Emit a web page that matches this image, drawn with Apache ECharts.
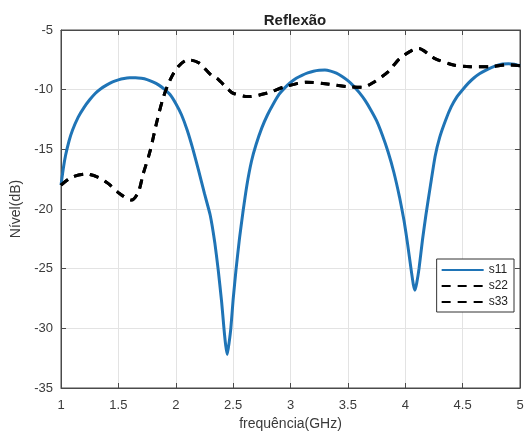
<!DOCTYPE html>
<html>
<head>
<meta charset="utf-8">
<script src="https://cdn.jsdelivr.net/npm/echarts@6/dist/echarts.min.js"></script>
<style>
  html, body { margin: 0; padding: 0; background: #fff; }
  #chart { width: 528px; height: 436px; }
</style>
</head>
<body>
<div id="chart"></div>
<script>
// valores (frequência em GHz, nível em dB)
var s11Freq  = [1.00, 1.02, 1.04, 1.07, 1.10, 1.15, 1.20, 1.25, 1.30, 1.35, 1.40, 1.45, 1.50, 1.55, 1.60, 1.65, 1.70, 1.75, 1.80, 1.85, 1.90, 1.95, 2.00, 2.05, 2.10, 2.15, 2.20, 2.25, 2.30, 2.34, 2.37, 2.40, 2.42, 2.435, 2.449, 2.465, 2.48, 2.50, 2.525, 2.555, 2.585, 2.62, 2.66, 2.70, 2.75, 2.80, 2.85, 2.90, 2.95, 3.00, 3.05, 3.10, 3.15, 3.20, 3.25, 3.30, 3.35, 3.40, 3.45, 3.50, 3.55, 3.60, 3.65, 3.70, 3.75, 3.80, 3.85, 3.90, 3.95, 3.99, 4.02, 4.05, 4.07, 4.085, 4.10, 4.12, 4.15, 4.18, 4.22, 4.26, 4.30, 4.35, 4.40, 4.45, 4.50, 4.55, 4.60, 4.65, 4.70, 4.75, 4.80, 4.85, 4.90, 4.95, 5.00];
var s11Level = [-18.0, -16.6, -15.5, -14.3, -13.4, -12.3, -11.5, -10.85, -10.3, -9.9, -9.6, -9.35, -9.18, -9.07, -9.01, -9.0, -9.05, -9.16, -9.35, -9.6, -9.95, -10.4, -11.15, -12.1, -13.4, -15.0, -16.8, -18.7, -20.5, -22.8, -25.1, -27.8, -30.0, -31.4, -32.2, -31.2, -30.0, -27.6, -25.1, -22.5, -20.3, -18.0, -16.0, -14.6, -13.2, -12.1, -11.2, -10.4, -9.85, -9.4, -9.05, -8.8, -8.6, -8.45, -8.37, -8.36, -8.45, -8.62, -8.9, -9.25, -9.7, -10.25, -10.9, -11.7, -12.6, -13.8, -15.2, -16.9, -19.0, -21.0, -22.9, -25.0, -26.3, -26.8, -26.2, -25.0, -22.6, -20.5, -18.0, -15.6, -14.0, -12.6, -11.45, -10.6, -10.0, -9.45, -9.0, -8.65, -8.38, -8.15, -7.97, -7.85, -7.82, -7.87, -8.0];

var s22Freq  = [1.00, 1.09, 1.22, 1.325, 1.41, 1.51, 1.615, 1.675, 1.715, 1.775, 1.835, 1.89, 1.95, 2.02, 2.11, 2.20, 2.31, 2.36, 2.46, 2.50, 2.63, 2.79, 2.97, 3.14, 3.32, 3.49, 3.62, 3.71, 3.85, 3.955, 4.115, 4.25, 4.42, 4.565, 4.74, 4.885, 5.00];
var s22Level = [-18.0, -17.35, -17.08, -17.35, -17.85, -18.7, -19.25, -18.55, -17.1, -15.2, -12.7, -10.7, -9.2, -8.07, -7.5, -7.75, -8.8, -9.05, -10.0, -10.3, -10.58, -10.3, -9.7, -9.38, -9.52, -9.74, -9.8, -9.46, -8.5, -7.37, -6.55, -7.35, -7.93, -8.07, -8.07, -7.93, -8.0];

// s33 coincide com s22 no gráfico
var s33Freq  = [1.00, 1.09, 1.22, 1.325, 1.41, 1.51, 1.615, 1.675, 1.715, 1.775, 1.835, 1.89, 1.95, 2.02, 2.11, 2.20, 2.31, 2.36, 2.46, 2.50, 2.63, 2.79, 2.97, 3.14, 3.32, 3.49, 3.62, 3.71, 3.85, 3.955, 4.115, 4.25, 4.42, 4.565, 4.74, 4.885, 5.00];
var s33Level = [-18.0, -17.35, -17.08, -17.35, -17.85, -18.7, -19.25, -18.55, -17.1, -15.2, -12.7, -10.7, -9.2, -8.07, -7.5, -7.75, -8.8, -9.05, -10.0, -10.3, -10.58, -10.3, -9.7, -9.38, -9.52, -9.74, -9.8, -9.46, -8.5, -7.37, -6.55, -7.35, -7.93, -8.07, -8.07, -7.93, -8.0];

function pares(xs, ys) {
    return xs.map(function (x, i) { return [x, ys[i]]; });
}

var fonte = '"Liberation Sans", Arial, sans-serif';
var corTexto = '#3a3a3a';
var corEixo = '#4a4a4a';

var myChart = echarts.init(document.getElementById('chart'));
myChart.setOption({
    animation: false,
    backgroundColor: '#fff',
    title: {
        text: 'Reflexão',
        left: 290,
        textAlign: 'center',
        top: 8,
        textStyle: { fontFamily: fonte, fontSize: 15, fontWeight: 'bold', color: '#222' }
    },
    legend: {
        orient: 'vertical',
        right: 14,
        top: 259,
        itemWidth: 42,
        itemHeight: 10,
        itemGap: 4,
        padding: [5, 6, 4, 4],
        borderColor: '#333',
        borderWidth: 1,
        backgroundColor: '#fff',
        itemStyle: { opacity: 0 },
        textStyle: { fontFamily: fonte, fontSize: 12, color: '#222' },
        data: ['s11', 's22', 's33']
    },
    grid: {
        left: 61, right: 8, top: 30, bottom: 47,
        show: true, borderColor: corEixo, borderWidth: 1
    },
    xAxis: [{
        type: 'value',
        min: 1, max: 5, interval: 0.5,
        name: 'frequência(GHz)',
        nameLocation: 'middle',
        nameGap: 29,
        nameTextStyle: { fontFamily: fonte, fontSize: 14, color: corTexto },
        axisLine: { show: true, lineStyle: { color: corEixo } },
        axisTick: { show: true, inside: true, length: 5, lineStyle: { color: corEixo } },
        axisLabel: { fontFamily: fonte, fontSize: 13, color: corTexto, margin: 11 },
        splitLine: { show: true, lineStyle: { color: '#e3e3e3' } }
    }, {
        type: 'value', position: 'top',
        min: 1, max: 5, interval: 0.5,
        axisLine: { show: true, lineStyle: { color: corEixo } },
        axisTick: { show: true, inside: true, length: 5, lineStyle: { color: corEixo } },
        axisLabel: { show: false },
        splitLine: { show: false }
    }],
    yAxis: [{
        type: 'value',
        min: -35, max: -5, interval: 5,
        name: 'Nível(dB)',
        nameLocation: 'middle',
        nameGap: 30,
        nameTextStyle: { fontFamily: fonte, fontSize: 14, color: corTexto },
        axisLine: { show: true, lineStyle: { color: corEixo } },
        axisTick: { show: true, inside: true, length: 5, lineStyle: { color: corEixo } },
        axisLabel: { fontFamily: fonte, fontSize: 13, color: corTexto, margin: 8 },
        splitLine: { show: true, lineStyle: { color: '#e3e3e3' } }
    }, {
        type: 'value', position: 'right',
        min: -35, max: -5, interval: 5,
        axisLine: { show: true, lineStyle: { color: corEixo } },
        axisTick: { show: true, inside: true, length: 5, lineStyle: { color: corEixo } },
        axisLabel: { show: false },
        splitLine: { show: false }
    }],
    series: [
        {
            name: 's11',
            type: 'line',
            smooth: 0.15,
            symbol: 'none',
            data: pares(s11Freq, s11Level),
            itemStyle: { color: '#1f74b6' },
            lineStyle: { color: '#1f74b6', width: 3 },
            z: 3
        },
        {
            name: 's22',
            type: 'line',
            smooth: 0.3,
            symbol: 'none',
            data: pares(s22Freq, s22Level),
            itemStyle: { color: '#000' },
            lineStyle: { color: '#000', width: 3, type: [9, 7] },
            z: 4
        },
        {
            name: 's33',
            type: 'line',
            smooth: 0.3,
            symbol: 'none',
            data: pares(s33Freq, s33Level),
            itemStyle: { color: '#000' },
            lineStyle: { color: '#000', width: 3, type: [9, 7] },
            z: 4
        }
    ]
});
</script>
</body>
</html>
